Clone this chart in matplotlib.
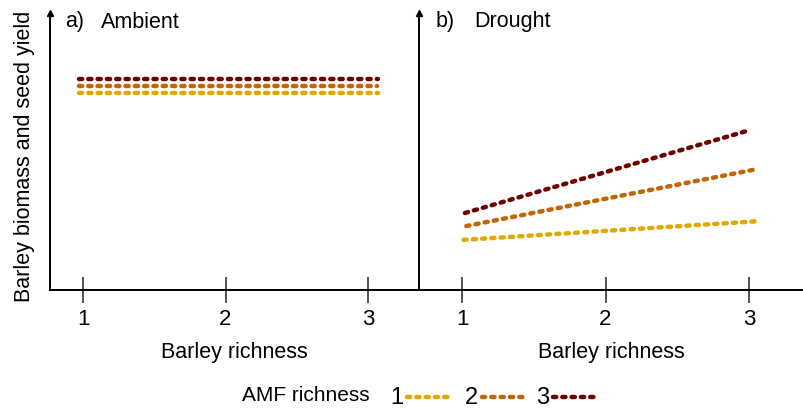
import matplotlib
matplotlib.use("Agg")
import matplotlib.pyplot as plt
from matplotlib.lines import Line2D

plt.rcParams['font.family'] = ['Liberation Sans', 'DejaVu Sans']
plt.rcParams['lines.scale_dashes'] = False

# ---- data (schematic) ----
amf_levels = ["1", "2", "3"]
colors = ["#E0A800", "#C26408", "#6E0000"]

ambient_x = [[0.97, 3.07], [0.97, 3.06], [0.97, 3.07]]
ambient_y = [[71.1, 71.1], [73.6, 73.6], [76.2, 76.2]]

drought_x = [[1.01, 3.08], [1.03, 3.06], [1.02, 3.01]]
drought_y = [[18.1, 24.9], [23.1, 43.7], [27.8, 57.8]]

xticks = [1, 2, 3]
xtick_labels = ["1", "2", "3"]

W, H = 804, 410
fig = plt.figure(figsize=(W / 100, H / 100), dpi=100)

def px(x0, y0, x1, y1):
    return [x0 / W, 1 - y1 / H, (x1 - x0) / W, (y1 - y0) / H]

axL = fig.add_axes(px(50, 14, 419, 291))
axR = fig.add_axes(px(419, 14, 804, 291))

dash = (0, (2.3, 4.4))
lw = 3.2
FS = 15.5

for ax, xs, ys, xlim, label, title, lx, tx in [
    (axL, ambient_x, ambient_y, (0.768, 3.358), "a)", "Ambient", 65, 101),
    (axR, drought_x, drought_y, (0.700, 3.383), "b)", "Drought", 436, 474),
]:
    for x, y, c in zip(xs, ys, colors):
        ax.plot(x, y, color=c, lw=lw, linestyle=dash, dash_capstyle='round')
    ax.set_xlim(*xlim)
    ax.set_ylim(0, 100)
    ax.spines['top'].set_visible(False)
    ax.spines['right'].set_visible(False)
    ax.spines['left'].set_linewidth(1.4)
    ax.spines['bottom'].set_linewidth(1.4)
    ax.set_yticks([])
    ax.set_xticks(xticks)
    ax.set_xticklabels(xtick_labels, fontsize=16)
    ax.tick_params(axis='x', direction='inout', length=18.5, width=1.3,
                   color='#444444', pad=3.5)
    ax.set_xlabel("Barley richness", fontsize=FS, labelpad=9)
    ax.plot([0], [1], marker='^', color='black', markersize=5,
            transform=ax.transAxes, clip_on=False)
    ax.patch.set_alpha(0)
    fig.text(lx / W, 1 - 22 / H, label, fontsize=FS, va='center', ha='left')
    fig.text(tx / W, 1 - 22 / H, title, fontsize=FS, va='center', ha='left')

fig.text(25 / W, 1 - 156 / H, "Barley biomass and seed yield", fontsize=FS,
         rotation=90, va='center', ha='center')

# ---- legend ----
fig.text(242 / W, 1 - 396 / H, "AMF richness", fontsize=15, va='center', ha='left')
leg_num_x = [397, 471, 543]
leg_line = [(407, 450), (482, 525), (553, 598)]
for lab, nx, (l0, l1), c in zip(amf_levels, leg_num_x, leg_line, colors):
    fig.text(nx / W, 1 - 398 / H, lab, fontsize=17, va='center', ha='center')
    fig.add_artist(Line2D([l0 / W, l1 / W], [1 - 398 / H, 1 - 398 / H],
                          transform=fig.transFigure, color=c, lw=lw,
                          linestyle=dash, dash_capstyle='round'))

fig.savefig("out.png", dpi=100)
